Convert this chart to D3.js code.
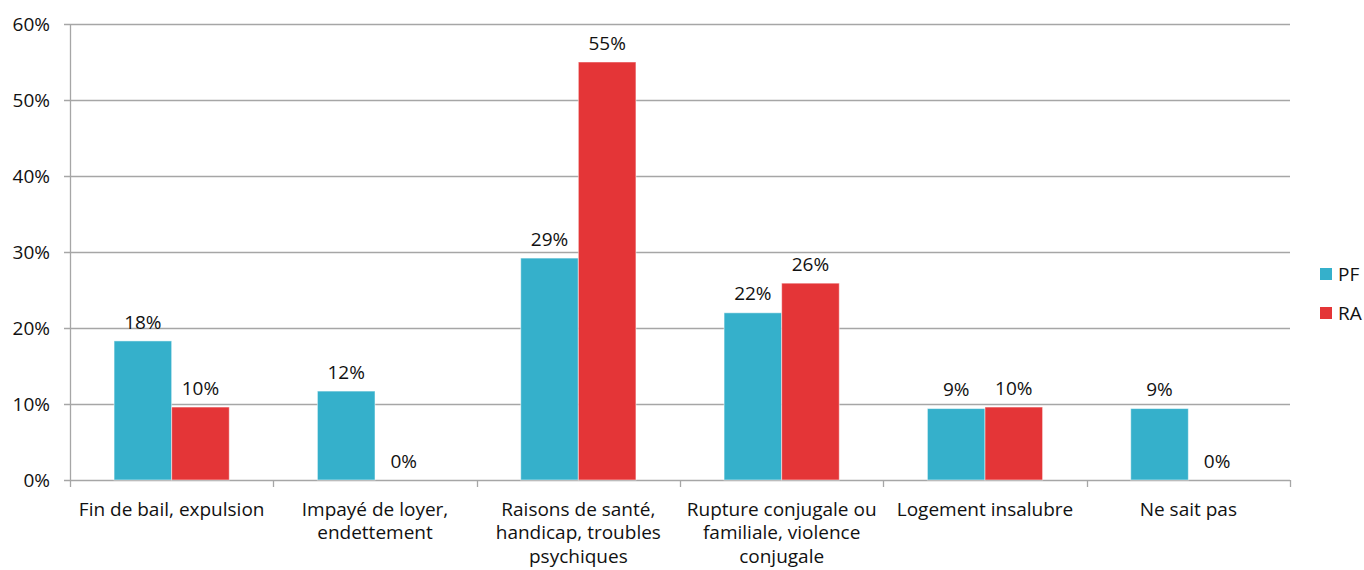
<!DOCTYPE html>
<html>
<head>
<meta charset="utf-8">
<script src="https://cdn.jsdelivr.net/npm/d3@7"></script>
<style>
  body { margin: 0; background: #fff; }
  text { font-family: "Open Sans", Lato, sans-serif; fill: #111; }
</style>
</head>
<body>
<div id="chart"></div>
<script>
// data
var categories = [
    ["Fin de bail, expulsion"],
    ["Impayé de loyer,", "endettement"],
    ["Raisons de santé,", "handicap, troubles", "psychiques"],
    ["Rupture conjugale ou", "familiale, violence", "conjugale"],
    ["Logement insalubre"],
    ["Ne sait pas"]
];
var seriesNames = ["PF", "RA"];
var pfValues = [18.3, 11.7, 29.2, 22.0, 9.4, 9.4];
var raValues = [9.6, 0, 55.0, 25.9, 9.6, 0];
var yTicks = [0, 10, 20, 30, 40, 50, 60];
var colors = ["#35b0cb", "#e43537"];

var w = 1364, h = 570;
var margin = {left: 70, right: 74, top: 24, bottom: 90};
var fs = "19px";

var svg = d3.select("#chart").append("svg")
    .attr("width", w)
    .attr("height", h);

var x0 = d3.scaleBand()
    .domain(d3.range(categories.length))
    .range([margin.left, w - margin.right]);

var x1 = d3.scaleBand()
    .domain(seriesNames)
    .range([0, x0.bandwidth()])
    .paddingInner(0)
    .paddingOuter(0.765);

var y = d3.scaleLinear()
    .domain([0, 60])
    .range([h - margin.bottom, margin.top]);

// gridlines
svg.append("g").selectAll("line")
    .data(yTicks)
    .enter().append("line")
    .attr("x1", margin.left - 6)
    .attr("x2", w - margin.right)
    .attr("y1", function(d){ return y(d) + 0.5; })
    .attr("y2", function(d){ return y(d) + 0.5; })
    .style("stroke", "#a6a6a6")
    .style("stroke-width", 1.3);

// y axis line
svg.append("line")
    .attr("x1", margin.left + 0.5).attr("x2", margin.left + 0.5)
    .attr("y1", y(60)).attr("y2", y(0))
    .style("stroke", "#a6a6a6")
    .style("stroke-width", 1.3);

svg.append("g").selectAll("text")
    .data(yTicks)
    .enter().append("text")
    .attr("x", margin.left - 20)
    .attr("y", function(d){ return y(d); })
    .attr("dy", "0.35em")
    .attr("text-anchor", "end")
    .style("font-size", fs)
    .text(function(d){ return d + "%"; });

// category ticks below axis
var boundaries = d3.range(categories.length + 1).map(function(i){
    return i < categories.length ? x0(i) : x0(i - 1) + x0.bandwidth();
});
svg.append("g").selectAll("line")
    .data(boundaries)
    .enter().append("line")
    .attr("x1", function(d){ return Math.round(d) + 0.5; })
    .attr("x2", function(d){ return Math.round(d) + 0.5; })
    .attr("y1", y(0))
    .attr("y2", y(0) + 7)
    .style("stroke", "#a6a6a6")
    .style("stroke-width", 1.3);

// bars
var rows = categories.map(function(c, i){
    return [{s: "PF", v: pfValues[i], c: 0}, {s: "RA", v: raValues[i], c: 1}];
});

var groups = svg.append("g").selectAll("g")
    .data(rows)
    .enter().append("g")
    .attr("transform", function(d, i){ return "translate(" + x0(i) + ",0)"; });

groups.selectAll("rect")
    .data(function(d){ return d; })
    .enter().append("rect")
    .attr("x", function(d){ return x1(d.s); })
    .attr("width", x1.bandwidth())
    .attr("y", function(d){ return y(d.v); })
    .attr("height", function(d){ return y(0) - y(d.v); })
    .style("fill", function(d){ return colors[d.c]; })
    .style("stroke", "#ffffff")
    .style("stroke-opacity", 0.5)
    .style("stroke-width", 1);

groups.selectAll(".val")
    .data(function(d){ return d; })
    .enter().append("text")
    .attr("class", "val")
    .attr("x", function(d){ return x1(d.s) + x1.bandwidth() / 2; })
    .attr("y", function(d){ return y(d.v) - 19; })
    .attr("dy", "0.35em")
    .attr("text-anchor", "middle")
    .style("font-size", fs)
    .text(function(d){ return Math.round(d.v) + "%"; });

// category labels
svg.append("g").selectAll("text")
    .data(categories)
    .enter().append("text")
    .attr("text-anchor", "middle")
    .attr("x", function(d, i){ return x0(i) + x0.bandwidth() / 2; })
    .attr("y", y(0) + 29)
    .style("font-size", fs)
    .each(function(d){
        var t = d3.select(this);
        d.forEach(function(line, k){
            t.append("tspan")
                .attr("x", t.attr("x"))
                .attr("dy", k === 0 ? "0.35em" : "1.24em")
                .text(line);
        });
    });

// legend
var legend = svg.append("g").selectAll("g")
    .data(seriesNames)
    .enter().append("g")
    .attr("transform", function(d, i){ return "translate(1320," + (268 + i * 39) + ")"; });

legend.append("rect")
    .attr("width", 12).attr("height", 12)
    .style("fill", function(d, i){ return colors[i]; });

legend.append("text")
    .attr("x", 18).attr("y", 6)
    .attr("dy", "0.35em")
    .style("font-size", fs)
    .text(function(d){ return d; });
</script>
</body>
</html>
